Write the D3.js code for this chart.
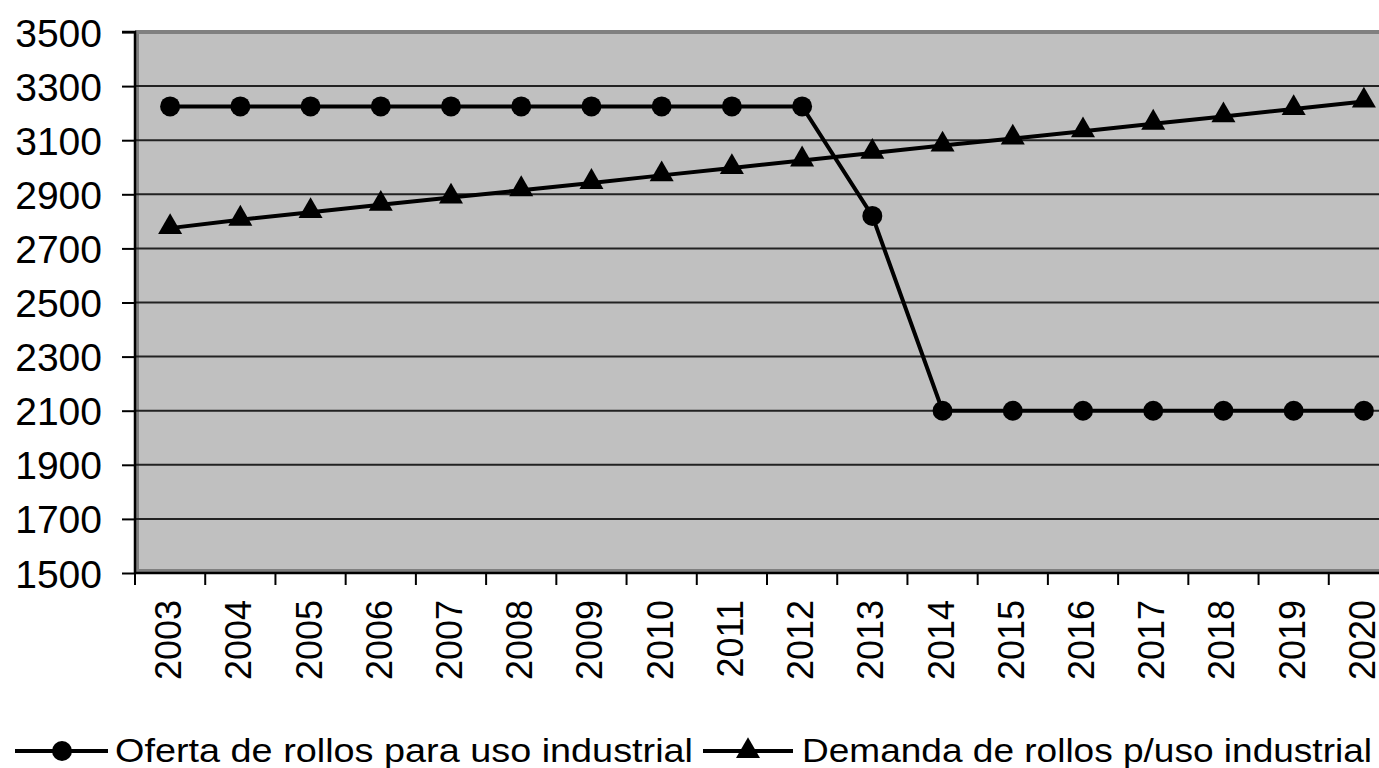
<!DOCTYPE html>
<html>
<head>
<meta charset="utf-8">
<script src="https://cdn.jsdelivr.net/npm/d3@7"></script>
<style>
  body { margin: 0; background: #fff; }
  svg { display: block; font-family: "Liberation Sans", Arial, sans-serif; }
</style>
</head>
<body>
<div id="chart"></div>
<script>
// Data
const years = ['2003', '2004', '2005', '2006', '2007', '2008', '2009', '2010', '2011',
               '2012', '2013', '2014', '2015', '2016', '2017', '2018', '2019', '2020'];
const oferta = [3225, 3225, 3225, 3225, 3225, 3225, 3225, 3225, 3225,
                3225, 2820, 2100, 2100, 2100, 2100, 2100, 2100, 2100];
const demanda = [2775, 2806, 2834, 2861, 2888, 2915, 2942, 2970, 2997,
                 3025, 3053, 3080, 3106, 3133, 3161, 3188, 3215, 3243];
const yTicks = [1500, 1700, 1900, 2100, 2300, 2500, 2700, 2900, 3100, 3300, 3500];
const legendLabels = ['Oferta de rollos para uso industrial', 'Demanda de rollos p/uso industrial'];

const width = 1379, height = 768;
const plot = { left: 135, top: 32, right: 1399, bottom: 573 };

const svg = d3.select('#chart')
    .append('svg')
    .attr('width', width)
    .attr('height', height);

const x = d3.scaleBand()
    .domain(years)
    .range([plot.left, plot.right]);

const y = d3.scaleLinear()
    .domain([1500, 3500])
    .range([plot.bottom, plot.top]);

const cx = d => x(d) + x.bandwidth() / 2;

// Plot area background with the gray border
svg.append('rect')
    .attr('x', plot.left + 2)
    .attr('y', plot.top)
    .attr('width', plot.right - plot.left)
    .attr('height', plot.bottom - plot.top - 2)
    .style('fill', '#c0c0c0')
    .style('stroke', '#808080')
    .style('stroke-width', 4);

// Gridlines
svg.append('g')
    .selectAll('line')
    .data(yTicks.slice(1, -1))
    .enter()
    .append('line')
    .attr('x1', plot.left)
    .attr('x2', plot.right)
    .attr('y1', d => y(d))
    .attr('y2', d => y(d))
    .style('stroke', '#222')
    .style('stroke-width', 2);

// Y axis
const yAxis = svg.append('g')
    .attr('transform', `translate(${plot.left},0)`)
    .call(d3.axisLeft(y).tickValues(yTicks).tickSize(13).tickPadding(20).tickFormat(d3.format('d')));
yAxis.select('.domain').style('stroke', '#000').style('stroke-width', 2.5)
    .attr('d', `M-13,${plot.top}H0V${plot.bottom}`);
yAxis.selectAll('.tick line').style('stroke', '#000').style('stroke-width', 2);
yAxis.selectAll('.tick text')
    .style('font-size', '39px')
    .style('fill', '#000')
    .attr('x', -33)
    .attr('dy', '0.36em');

// X axis: ticks on the category boundaries
const xAxis = svg.append('g')
    .attr('transform', `translate(0,${plot.bottom})`);
xAxis.append('line')
    .attr('x1', plot.left)
    .attr('x2', plot.right)
    .style('stroke', '#000')
    .style('stroke-width', 2.5);
xAxis.selectAll('.xtick')
    .data(years)
    .enter()
    .append('line')
    .attr('class', 'xtick')
    .attr('x1', d => x(d))
    .attr('x2', d => x(d))
    .attr('y1', 0)
    .attr('y2', 12)
    .style('stroke', '#000')
    .style('stroke-width', 2);
xAxis.selectAll('.xlabel')
    .data(years)
    .enter()
    .append('text')
    .attr('class', 'xlabel')
    .attr('transform', d => `translate(${cx(d) + 11},27) rotate(-90)`)
    .attr('text-anchor', 'end')
    .style('font-size', '36px')
    .style('fill', '#000')
    .text(d => d);

// Series
const line = d3.line()
    .x((d, i) => cx(years[i]))
    .y(d => y(d));

const triangle = d3.symbol().type(d3.symbolTriangle).size(250);

function drawSeries(values, marker) {
    const g = svg.append('g');
    g.append('path')
        .datum(values)
        .attr('d', line)
        .style('fill', 'none')
        .style('stroke', '#000')
        .style('stroke-width', 4);
    if (marker === 'circle') {
        g.selectAll('circle')
            .data(values)
            .enter()
            .append('circle')
            .attr('cx', (d, i) => cx(years[i]))
            .attr('cy', d => y(d))
            .attr('r', 10)
            .style('fill', '#000');
    } else {
        g.selectAll('path.mk')
            .data(values)
            .enter()
            .append('path')
            .attr('class', 'mk')
            .attr('d', triangle)
            .attr('transform', (d, i) => `translate(${cx(years[i])},${y(d) - 1})`)
            .style('fill', '#000');
    }
}

drawSeries(oferta, 'circle');
drawSeries(demanda, 'triangle');

// Legend
const legendY = 751;
const legendItems = [
    { label: legendLabels[0], marker: 'circle', x0: 15, w: 93, tx: 115, tw: 578 },
    { label: legendLabels[1], marker: 'triangle', x0: 703, w: 90, tx: 802, tw: 570 }
];
legendItems.forEach(item => {
    const g = svg.append('g').attr('transform', `translate(${item.x0},${legendY})`);
    g.append('line')
        .attr('x1', 0)
        .attr('x2', item.w)
        .style('stroke', '#000')
        .style('stroke-width', 4);
    if (item.marker === 'circle') {
        g.append('circle').attr('cx', 47).attr('r', 10).style('fill', '#000');
    } else {
        g.append('path').attr('d', triangle).attr('transform', 'translate(45,0)').style('fill', '#000');
    }
    g.append('text')
        .attr('x', item.tx - item.x0)
        .attr('y', 11)
        .attr('textLength', item.tw)
        .attr('lengthAdjust', 'spacingAndGlyphs')
        .style('font-size', '33px')
        .style('fill', '#000')
        .text(item.label);
});
</script>
</body>
</html>
